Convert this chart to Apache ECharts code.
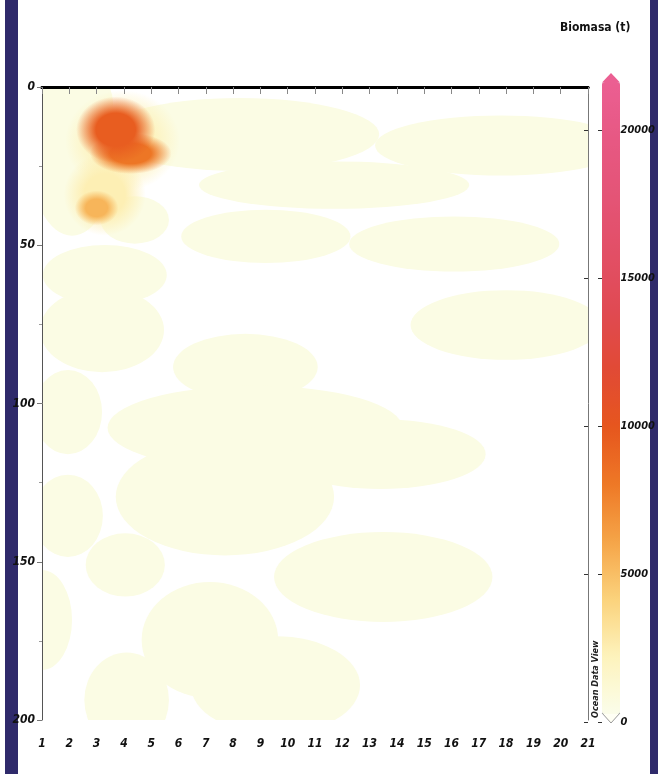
<!DOCTYPE html>
<html><head><meta charset="utf-8">
<script src="https://cdn.jsdelivr.net/npm/echarts@6/dist/echarts.min.js"></script>
<style>html,body{margin:0;padding:0;background:#fff}#c{width:658px;height:774px}</style>
</head><body><div id="c"></div>
<script>
// ---- data (station index, depth, half-extent in stations, half-extent in depth, biomass t, soft edge)
const blobStation = [2.1, 2.2, 8.25, 11.7, 17.8, 9.2, 16.1, 18.0, 4.4, 3.3, 3.2, 8.45, 1.95, 8.8, 13.4, 7.7, 4.05, 13.5, 1.95, 1.0, 7.15, 9.55, 4.1,
                     3.95, 3.3, 3.0, 4.25, 3.7];
const blobDepth   = [20, 5, 15, 31, 18.5, 47.2, 49.6, 75.2, 42, 59.4, 76.8, 88.5, 102.7, 107.7, 116, 129.5, 151, 154.8, 135.5, 168.4, 174.7, 189, 193.7,
                     17, 34, 38.2, 21, 13.5];
const blobHalfW   = [1.6, 1.4, 5.1, 4.95, 4.6, 3.1, 3.85, 3.5, 1.25, 2.27, 2.27, 2.65, 1.25, 5.4, 3.85, 4.0, 1.45, 4.0, 1.28, 1.1, 2.5, 3.1, 1.55,
                     2.1, 1.5, 0.8, 1.5, 1.45];
const blobHalfD   = [27, 12, 11.5, 7.5, 9.5, 8.4, 8.7, 11, 7.5, 9.5, 13.3, 10.5, 13.3, 13.3, 11, 18.5, 10, 14.2, 13, 15.8, 18.3, 15.5, 15,
                     16, 13, 5.5, 6.5, 10.5];
const blobBiomass = [250, 250, 250, 250, 250, 250, 250, 250, 250, 250, 250, 250, 250, 250, 250, 250, 250, 250, 250, 250, 250, 250, 250,
                     2000, 2200, 5200, 8000, 9400];
const blobSoft    = [0, 0, 0, 0, 0, 0, 0, 0, 0, 0, 0, 0, 0, 0, 0, 0, 0, 0, 0, 0, 0, 0, 0,
                     1, 1, 1, 1, 1];

const portNames   = ['Pto. Bolívar', 'Chanduy', 'Ayangue', 'Pto. López', 'Manta', 'Bahía de Caráquez'];
const portStation = [2.1, 6.15, 9.5, 12.25, 15.0, 18.0];

const depthTicks    = [0, 50, 100, 150, 200];
const colorbarTicks = [0, 5000, 10000, 15000, 20000];
const colorbarMax   = 21620;

// ---- chart
const FONT = "'DejaVu Sans Condensed','Liberation Sans Narrow',sans-serif";
const lab = {fontFamily: FONT, fontStyle: 'italic', fontWeight: 'bold', fontSize: 12, color: '#111'};

const blobData = blobStation.map((s, i) => [s, blobDepth[i], blobHalfW[i], blobHalfD[i], blobBiomass[i], blobSoft[i]]);
const portData = portStation.map((s, i) => ({value: [s, 0], name: portNames[i]}));

const chart = echarts.init(document.getElementById('c'), null, {renderer: 'canvas'});
chart.setOption({
  backgroundColor: '#ffffff',
  animation: false,
  grid: [
    {left: 42, top: 87, width: 546, height: 633},
    {left: 602, top: 82, width: 18, height: 640}
  ],
  xAxis: [
    {gridIndex: 0, type: 'value', min: 1, max: 21, interval: 1, position: 'bottom', z: 10,
     axisLine: {lineStyle: {color: '#000', width: 3}},
     axisTick: {show: true, length: 7, lineStyle: {color: '#888', width: 1}},
     axisLabel: Object.assign({margin: 18}, lab),
     splitLine: {show: false}},
    {gridIndex: 0, type: 'value', min: 1, max: 21, position: 'top', z: 10,
     axisLine: {lineStyle: {color: '#000', width: 3}},
     axisTick: {show: false}, axisLabel: {show: false}, splitLine: {show: false}},
    {gridIndex: 1, type: 'value', min: 0, max: 1, show: false}
  ],
  yAxis: [
    {gridIndex: 0, type: 'value', min: 0, max: 200, interval: 50, inverse: true, position: 'left', z: 10,
     axisLine: {lineStyle: {color: '#555', width: 1}},
     axisTick: {show: true, length: 5, lineStyle: {color: '#777'}, customValues: depthTicks},
     minorTick: {show: true, splitNumber: 2, length: 3, lineStyle: {color: '#999'}},
     axisLabel: Object.assign({margin: 7, customValues: depthTicks}, lab),
     splitLine: {show: false}},
    {gridIndex: 0, type: 'value', min: 0, max: 200, inverse: true, position: 'right', z: 10,
     axisLine: {lineStyle: {color: '#777', width: 1}},
     axisTick: {show: false}, axisLabel: {show: false}, splitLine: {show: false}},
    {gridIndex: 1, type: 'value', min: 0, max: colorbarMax, position: 'right', zlevel: 1, z: 20,
     axisLine: {show: false},
     axisTick: {show: true, inside: true, length: 18, lineStyle: {color: '#333', type: [4, 10]}, customValues: colorbarTicks},
     axisLabel: Object.assign({margin: 4, customValues: colorbarTicks, formatter: v => String(v)}, lab, {fontSize: 11}),
     splitLine: {show: false}}
  ],
  visualMap: {
    type: 'continuous', seriesIndex: 0, dimension: 4, min: 0, max: colorbarMax,
    left: 602, top: 82, itemWidth: 18, itemHeight: 632, padding: 0, z: 1,
    calculable: false, hoverLink: false, orient: 'vertical',
    inRange: {color: ['#fbfdea', '#fdf3bc', '#fbd27c', '#f5a548', '#ee7826', '#e6561e',
                      '#e14a35', '#e04a52', '#e24f66', '#e45476', '#e75883', '#eb5f92']}
  },
  series: [
    {
      type: 'custom', xAxisIndex: 0, yAxisIndex: 0, clip: true, z: 2,
      data: blobData,
      encode: {x: 0, y: 1},
      renderItem: function (params, api) {
        const c = api.coord([api.value(0), api.value(1)]);
        const s = api.size([api.value(2), api.value(3)]);
        const rx = Math.abs(s[0]), ry = Math.abs(s[1]);
        const color = api.visual('color');
        let fill = color;
        if (api.value(5)) {
          fill = {type: 'radial', x: 0.5, y: 0.5, r: 0.5, colorStops: [
            {offset: 0, color: color},
            {offset: 0.5, color: color},
            {offset: 1, color: echarts.color.modifyAlpha(color, 0)}
          ]};
        }
        return {type: 'circle', x: c[0], y: c[1], scaleX: rx / ry, scaleY: 1,
                shape: {cx: 0, cy: 0, r: ry}, style: {fill: fill}};
      }
    },
    {
      type: 'scatter', xAxisIndex: 0, yAxisIndex: 0, clip: false, z: 5,
      symbolSize: 1, itemStyle: {opacity: 0},
      data: portData,
      label: Object.assign({show: true, position: 'top', distance: 16,
                            formatter: p => p.name}, lab)
    },
    {type: 'scatter', xAxisIndex: 2, yAxisIndex: 2, data: []}
  ],
  graphic: [
    {type: 'rect', left: 5, top: 0, shape: {width: 13, height: 774}, style: {fill: '#2f2a6b'}, silent: true},
    {type: 'rect', left: 650, top: 0, shape: {width: 8, height: 774}, style: {fill: '#2f2a6b'}, silent: true},
    {type: 'polygon', shape: {points: [[602, 82.5], [611, 73], [620, 82.5]]}, style: {fill: '#eb5f92'}, silent: true},
    {type: 'polygon', shape: {points: [[602, 713], [611, 723], [620, 713]]}, style: {fill: '#fffff4', stroke: '#999', lineWidth: 1}, silent: true},
    {type: 'text', left: 560, top: 22, style: {text: 'Biomasa (t)', font: "bold 12px " + FONT, fill: '#111'}, silent: true},
    {type: 'text', x: 591, y: 718, rotation: Math.PI / 2,
     style: {text: 'Ocean Data View', font: "italic bold 9px " + FONT, fill: '#222', textVerticalAlign: 'top'}, silent: true}
  ]
});
</script></body></html>
